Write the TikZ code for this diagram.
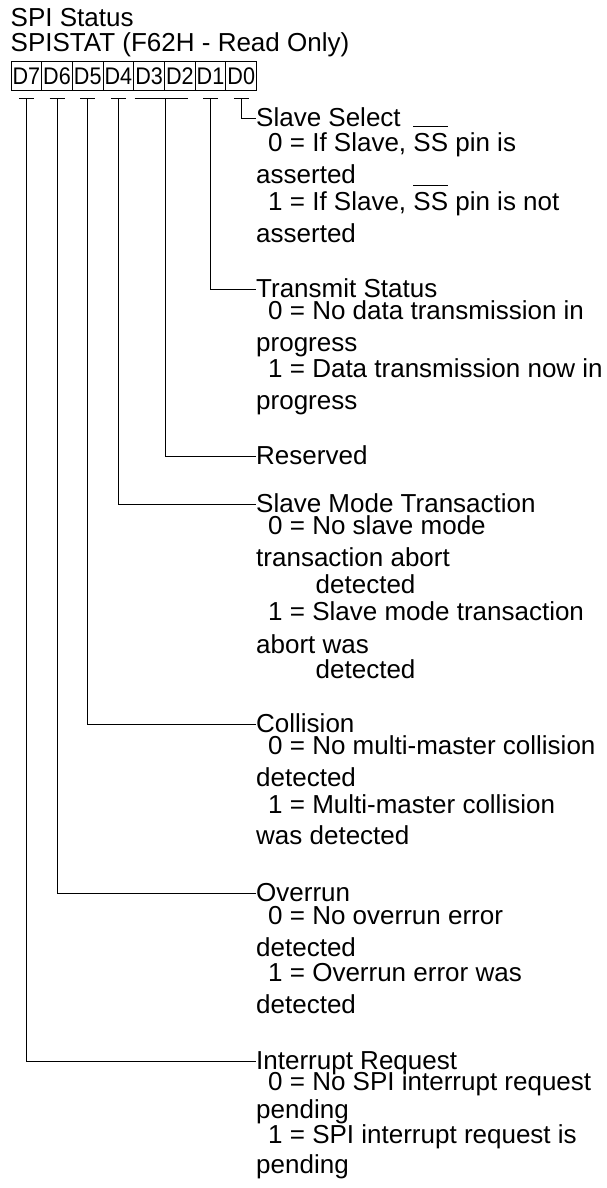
\documentclass[tikz,border=0pt]{standalone}
\usepackage{fontspec}
\setmainfont{Liberation Sans}
\newsavebox{\ovlbox}
\newcommand{\ovl}[1]{\sbox{\ovlbox}{#1}\rlap{\rule[24.5pt]{\wd\ovlbox}{1pt}}\usebox{\ovlbox}}

\begin{document}
\begin{tikzpicture}[x=1pt,y=-1pt]
\tikzstyle{txt}=[inner sep=0pt, anchor=base west, font=\fontsize{26}{26}\selectfont]
\tikzstyle{bit}=[rectangle, draw=black, line width=1pt, minimum width=30.7pt, minimum height=28.3pt, inner sep=0pt, font=\fontsize{24}{24}\selectfont]
\tikzstyle{wire}=[line width=1pt]
\useasboundingbox (0,0) rectangle (607,1188);
  \node[txt] (title) at (10.5,26.5) {SPI Status};
  \node[txt] (reg) at (10.5,52) {SPISTAT (F62H - Read Only)};
  \foreach \b [count=\i from 0] in {7,...,0}
    \node[bit] (D\b) at (26.35+30.7*\i,76) {\scalebox{0.9}[1]{D\b}};

  % ticks under the bits
  \coordinate (tickrow) at (0,99);
  \foreach \b in {7,6,5,4,1,0} {
    \coordinate (t\b) at (D\b |- tickrow);
    \draw[wire] ([xshift=-7.5pt]t\b) -- ([xshift=7.5pt]t\b);
  }
  \coordinate (t32) at (D3.east |- tickrow);
  \draw[wire] ([xshift=-30.5pt]t32) -- ([xshift=22.5pt]t32);

  % D0
  \node[txt] (ss) at (256,126.5) {Slave Select};
  \node[txt] (ss0) at (268,151.5) {0 = If Slave, \ovl{SS} pin is};
  \node[txt] (ss0b) at (256,183) {asserted};
  \node[txt] (ss1) at (268,210.5) {1 = If Slave, \ovl{SS} pin is not};
  \node[txt] (ss1b) at (256,242) {asserted};
  % D1
  \node[txt] (tx) at (256,297.5) {Transmit Status};
  \node[txt] (tx0) at (268,319.5) {0 = No data transmission in};
  \node[txt] (tx0b) at (256,351.7) {progress};
  \node[txt] (tx1) at (268,377.7) {1 = Data transmission now in};
  \node[txt] (tx1b) at (256,409) {progress};
  % D3 D2
  \node[txt] (rsv) at (256,464.5) {Reserved};
  % D4
  \node[txt] (smt) at (256,512.7) {Slave Mode Transaction};
  \node[txt] (smt0) at (268,534) {0 = No slave mode};
  \node[txt] (smt0b) at (256,566.7) {transaction abort};
  \node[txt] (smt0c) at (315.5,593) {detected};
  \node[txt] (smt1) at (268,620.7) {1 = Slave mode transaction};
  \node[txt] (smt1b) at (256,653) {abort was};
  \node[txt] (smt1c) at (315.5,678) {detected};
  % D5
  \node[txt] (col) at (256,732.7) {Collision};
  \node[txt] (col0) at (268,754.5) {0 = No multi-master collision};
  \node[txt] (col0b) at (256,786.7) {detected};
  \node[txt] (col1) at (268,813) {1 = Multi-master collision};
  \node[txt] (col1b) at (256,844) {was detected};
  % D6
  \node[txt] (ovr) at (256,901.7) {Overrun};
  \node[txt] (ovr0) at (268,924) {0 = No overrun error};
  \node[txt] (ovr0b) at (256,956) {detected};
  \node[txt] (ovr1) at (268,981.7) {1 = Overrun error was};
  \node[txt] (ovr1b) at (256,1013) {detected};
  % D7
  \node[txt] (irq) at (256,1069.5) {Interrupt Request};
  \node[txt] (irq0) at (268,1090) {0 = No SPI interrupt request};
  \node[txt] (irq0b) at (256,1118) {pending};
  \node[txt] (irq1) at (268,1143) {1 = SPI interrupt request is};
  \node[txt] (irq1b) at (256,1173) {pending};

  % bit lines to their fields
  \draw[wire] (t0) |- ([yshift=7.8pt]ss.base west);
  \draw[wire] (t1) |- ([yshift=7.8pt]tx.base west);
  \draw[wire] (t32) |- ([yshift=7.8pt]rsv.base west);
  \draw[wire] (t4) |- ([yshift=7.8pt]smt.base west);
  \draw[wire] (t5) |- ([yshift=7.8pt]col.base west);
  \draw[wire] (t6) |- ([yshift=7.8pt]ovr.base west);
  \draw[wire] (t7) |- ([yshift=7.8pt]irq.base west);
\end{tikzpicture}
\end{document}
